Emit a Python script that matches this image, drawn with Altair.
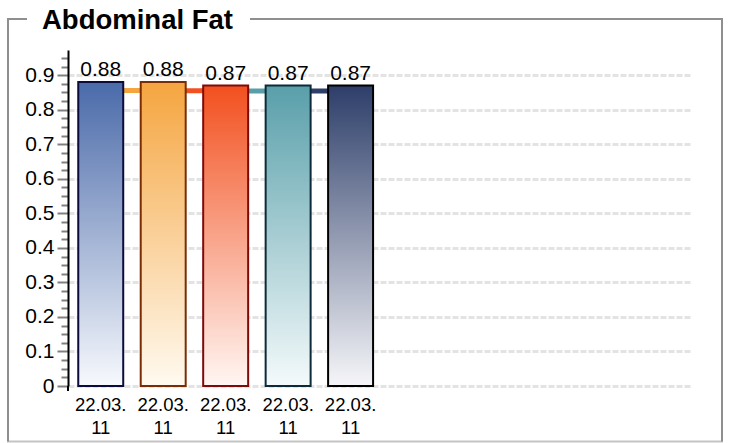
import json

import altair as alt
import pandas as pd

# ---- data -------------------------------------------------------------
title_text = "Abdominal Fat"
dates = ["22.03.\n11", "22.03.\n11", "22.03.\n11", "22.03.\n11", "22.03.\n11"]
values = [0.88, 0.88, 0.87, 0.87, 0.87]
# level of the connector drawn between neighbouring bars
link_values = [0.856, 0.855, 0.854, 0.854]
slot_count = 10  # the category axis has room for ten measurements

top_colors = ["#4a6aa9", "#f5a540", "#f2501f", "#599faa", "#2d3e69"]
bottom_colors = ["#f7f9fd", "#fffaf0", "#fff6f3", "#f4fafb", "#f6f6f9"]
stroke_colors = ["#0b0b3d", "#7a2d05", "#7f0a0a", "#0d2a3a", "#000000"]

y_max = 0.973
y_ticks = [round(0.025 * i, 3) for i in range(39)]  # 0 … 0.95

FONT = "Liberation Sans"
W, H = 622, 336

# ---- tables -----------------------------------------------------------
bars_df = pd.DataFrame({"idx": list(range(len(values))), "value": values})

link_rows = []
for k, v in enumerate(link_values):
    link_rows.append({"seg": k, "idx": k, "value": v, "color": top_colors[k + 1]})
    link_rows.append({"seg": k, "idx": k + 1, "value": v, "color": top_colors[k + 1]})
links_df = pd.DataFrame(link_rows)

# ---- shared encodings -------------------------------------------------
major = "abs(datum.value * 10 - round(datum.value * 10)) < 0.001"
label_lines = json.dumps([d.split("\n") for d in dates])

x_enc = alt.X(
    "idx:O",
    scale=alt.Scale(
        domain=list(range(slot_count)), paddingInner=0.28, paddingOuter=0.119, align=0.69
    ),
    axis=alt.Axis(
        title=None,
        labelAngle=0,
        ticks=False,
        tickSize=0,
        domain=False,
        grid=False,
        labelExpr=f"datum.value < {len(dates)} ? {label_lines}[datum.value] : ''",
        labelFont=FONT,
        labelFontSize=18.5,
        labelColor="#000000",
        labelPadding=9,
        labelLineHeight=23,
    ),
)

y_enc = alt.Y(
    "value:Q",
    scale=alt.Scale(domain=[0, y_max], nice=False, zero=True),
    axis=alt.Axis(
        title=None,
        values=y_ticks,
        labelExpr=f"{major} ? format(datum.value, '~g') : ''",
        labelFont=FONT,
        labelFontSize=21,
        labelColor="#000000",
        labelPadding=3,
        tickSize={"condition": {"test": major, "value": 11}, "value": 7},
        tickColor="#808080",
        tickWidth=2,
        domainColor="#000000",
        domainWidth=2,
        grid=True,
        gridColor="#e3e3e3",
        gridWidth=3,
        gridDash=[6, 2],
        gridOpacity={"condition": {"test": major, "value": 1}, "value": 0},
    ),
)

# ---- layers -----------------------------------------------------------
links = (
    alt.Chart(links_df)
    .mark_line(strokeWidth=5)
    .encode(x=x_enc, y=y_enc, detail="seg:N", color=alt.Color("color:N", scale=None))
)

bar_layers = []
for i in range(len(values)):
    gradient = alt.LinearGradient(
        gradient="linear",
        stops=[
            alt.GradientStop(color=top_colors[i], offset=0),
            alt.GradientStop(color=bottom_colors[i], offset=1),
        ],
        x1=0, x2=0, y1=0, y2=1,
    )
    bar_layers.append(
        alt.Chart(bars_df)
        .transform_filter(alt.datum.idx == i)
        .mark_bar(color=gradient, stroke=stroke_colors[i], strokeWidth=2)
        .encode(x=x_enc, y=y_enc)
    )

value_labels = (
    alt.Chart(bars_df)
    .mark_text(font=FONT, fontSize=21, baseline="alphabetic", dy=-6, color="#000000")
    .encode(x=x_enc, y=y_enc, text=alt.Text("value:Q", format=".2f"))
)

# axis line continues a little below zero
one = pd.DataFrame({"k": [0]})
axis_tail = (
    alt.Chart(one)
    .mark_rule(color="#000000", strokeWidth=2)
    .encode(x=alt.value(0), y=alt.value(H), y2=alt.value(H + 5))
)

# ---- fieldset-style frame with the heading set into its top edge --------
fx0, fx1 = -60, 654
fy0, fy1 = -31, 391.5
frame_color = "#8f8f8f"


def hline(x0, x1, y, color):
    return (
        alt.Chart(one)
        .mark_rule(color=color, strokeWidth=2)
        .encode(x=alt.value(x0), x2=alt.value(x1), y=alt.value(y))
    )


def vline(x, y0, y1, color):
    return (
        alt.Chart(one)
        .mark_rule(color=color, strokeWidth=2)
        .encode(x=alt.value(x), y=alt.value(y0), y2=alt.value(y1))
    )


frame = [
    hline(fx0 - 1, -41, fy0, frame_color),
    hline(182, fx1 + 1, fy0, frame_color),
    hline(fx0 - 1, fx1 + 1, fy1, "#c4c4c4"),
    vline(fx0, fy0, fy1, frame_color),
    vline(fx1, fy0, fy1, frame_color),
]

heading = (
    alt.Chart(pd.DataFrame({"t": [title_text]}))
    .mark_text(font=FONT, fontSize=27.5, fontWeight="bold", align="left",
               baseline="alphabetic", color="#000000")
    .encode(text="t:N", x=alt.value(-26), y=alt.value(-20.7))
)

chart = (
    alt.layer(links, *bar_layers, value_labels, axis_tail, *frame, heading)
    .properties(
        width=W,
        height=H,
        autosize=alt.AutoSizeParams(type="none"),
        padding={"left": 68, "top": 50, "right": 41, "bottom": 57},
        background="#ffffff",
    )
    .configure_view(stroke=None)
)

chart.save("out.html", embed_options={"renderer": "svg", "actions": False})
